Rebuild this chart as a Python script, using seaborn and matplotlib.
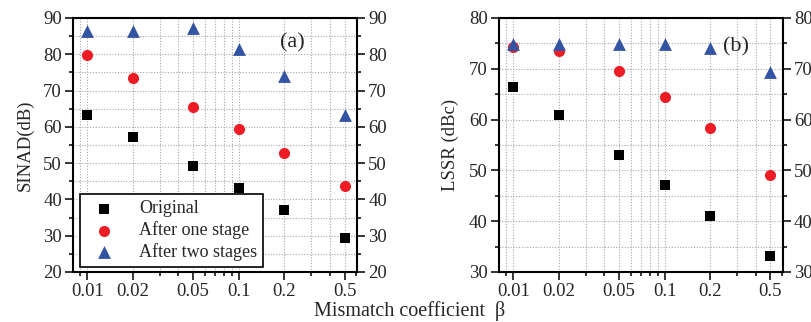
import numpy as np
import pandas as pd
import matplotlib
matplotlib.use("Agg")
import matplotlib.pyplot as plt
import matplotlib.ticker as mticker
import seaborn as sns

# data
beta = [0.01, 0.02, 0.05, 0.1, 0.2, 0.5]
series = ["Original", "After one stage", "After two stages"]

sinad_orig = [63.2, 57.1, 49.1, 43.1, 37.1, 29.3]
sinad_one = [79.7, 73.5, 65.5, 59.3, 52.9, 43.8]
sinad_two = [86.4, 86.5, 87.1, 81.4, 74.0, 63.2]

lssr_orig = [66.4, 60.9, 53.0, 47.1, 41.1, 33.1]
lssr_one = [74.2, 73.4, 69.6, 64.5, 58.3, 49.1]
lssr_two = [74.8, 74.8, 74.9, 74.8, 74.1, 69.3]

colors = {"Original": "#000000", "After one stage": "#ee1c25", "After two stages": "#3353a3"}
markers = {"Original": "s", "After one stage": "o", "After two stages": "^"}
sizes = {"Original": 48, "After one stage": 64, "After two stages": 85}

sns.set_style("ticks")
plt.rcParams["font.family"] = ["Liberation Serif", "DejaVu Serif"]
plt.rcParams["font.size"] = 13

fig = plt.figure(figsize=(8.12, 3.22), dpi=100)
ax_a = fig.add_axes([0.0899, 0.1553, 0.3498, 0.789])
ax_b = fig.add_axes([0.6145, 0.1553, 0.3498, 0.789])


def make_df(vals):
    rows = []
    for name, v in zip(series, vals):
        for b, y in zip(beta, v):
            rows.append({"beta": b, "value": y, "series": name})
    return pd.DataFrame(rows)


def draw(ax, df, ylim, ylabel, tag, tagpos):
    ax.set_xscale("log")
    for name in series:
        sns.scatterplot(data=df[df["series"] == name], x="beta", y="value", ax=ax,
                        marker=markers[name], color=colors[name], s=sizes[name],
                        linewidth=0, label=name, zorder=3)
    ax.set_xlim(0.00804, 0.605)
    ax.set_ylim(*ylim)
    ax.xaxis.set_major_locator(mticker.FixedLocator(beta))
    ax.xaxis.set_major_formatter(mticker.FixedFormatter([str(b) for b in beta]))
    ax.xaxis.set_minor_locator(mticker.LogLocator(base=10, subs=np.arange(1, 10)))
    ax.xaxis.set_minor_formatter(mticker.NullFormatter())
    ax.yaxis.set_major_locator(mticker.MultipleLocator(10))
    ax.yaxis.set_minor_locator(mticker.MultipleLocator(5))
    ax.grid(True, which="both", linestyle=(0, (1, 1.5)), color="#a8a8a8", linewidth=0.8)
    ax.set_axisbelow(True)
    ax.tick_params(which="both", direction="out", right=True, labelright=True,
                   top=False, width=1.3, labelsize=13.5, pad=2)
    ax.tick_params(which="major", length=6)
    ax.tick_params(which="minor", length=3)
    for sp in ax.spines.values():
        sp.set_linewidth(1.5)
        sp.set_color("black")
    ax.set_xlabel("")
    ax.set_ylabel(ylabel, fontsize=13.5, labelpad=7)
    ax.text(tagpos[0], tagpos[1], tag, transform=ax.transAxes, fontsize=16,
            ha="center", va="center")


df_a = make_df([sinad_orig, sinad_one, sinad_two])
df_b = make_df([lssr_orig, lssr_one, lssr_two])

draw(ax_a, df_a, (20, 90), "SINAD(dB)", "(a)", (0.771, 0.90))
draw(ax_b, df_b, (30, 80), "LSSR (dBc)", "(b)", (0.834, 0.886))

handles, labels = ax_a.get_legend_handles_labels()
leg = ax_a.legend(handles, labels, loc="lower left", bbox_to_anchor=(0.025, 0.018),
                  fontsize=13, frameon=True, fancybox=False, edgecolor="black",
                  framealpha=1, labelspacing=0.22, handletextpad=0.9,
                  borderpad=0.35, handlelength=2.0, borderaxespad=0)
leg.get_frame().set_linewidth(1.2)
ax_b.get_legend().remove()

fig.text(0.505, 0.035, "Mismatch coefficient  β", ha="center", va="center", fontsize=14.5)

fig.savefig("out.png", dpi=100)
